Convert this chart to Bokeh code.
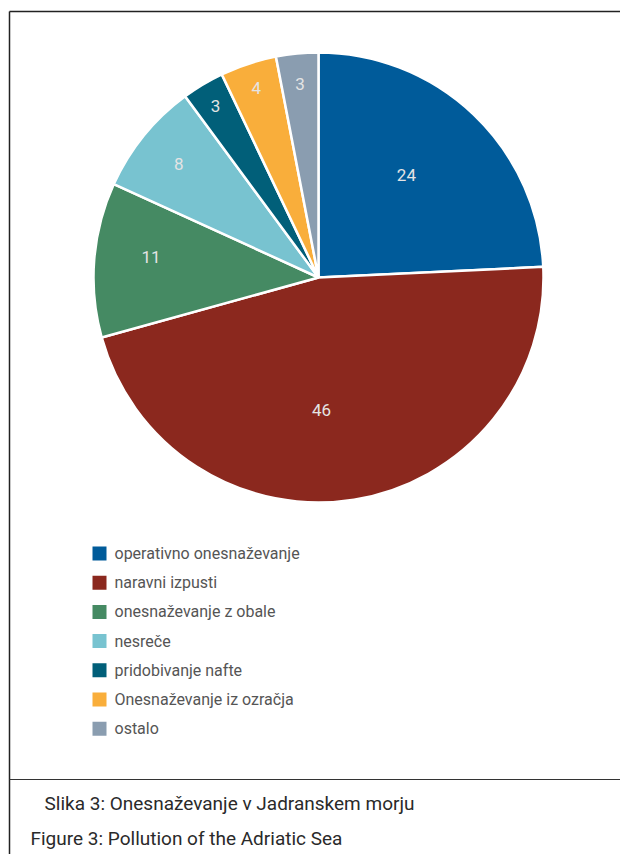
import numpy as np
from bokeh.plotting import figure
from bokeh.models import Range1d, ColumnDataSource
from bokeh.core.properties import value
from bokeh.embed import file_html
from bokeh.resources import INLINE

categories = ["operativno onesnaževanje", "naravni izpusti", "onesnaževanje z obale",
              "nesreče", "pridobivanje nafte", "Onesnaževanje iz ozračja", "ostalo"]
values = [24, 46, 11, 8, 3, 4, 3]
colors = ["#005b9a", "#8b281e", "#458a63", "#78c3d0", "#015f79", "#f9ae3b", "#8a9db0"]
caption_si = "Slika 3: Onesnaževanje v Jadranskem morju"
caption_en = "Figure 3: Pollution of the Adriatic Sea"

# label placement style (radius fraction, angle nudge in degrees)
label_rfrac = [0.6, 0.59, 0.75, 0.8, 0.89, 0.885, 0.865]
label_nudge = [-3, 7.8, 2.5, 0, 0, 0, 0]

FONT = "Roboto"
W, H = 620, 854
p = figure(width=W, height=H, output_backend="svg", toolbar_location=None,
           x_range=Range1d(0, W), y_range=Range1d(0, H), min_border=0)
p.axis.visible = False
p.grid.visible = False
p.outline_line_color = None
p.background_fill_color = "white"
p.border_fill_color = "white"

def Y(y):
    return H - y

# frame
p.line([9, 9], [Y(11), Y(854)], line_color="#222222", line_width=1.5)
p.line([9, 620], [Y(11), Y(11)], line_color="#222222", line_width=1.5)
p.line([9, 620], [Y(779), Y(779)], line_color="#333333", line_width=1.2)

# pie
cx, cy, r = 318, Y(277), 225
vals = np.array(values, dtype=float)
frac = vals / vals.sum()
cum = np.concatenate([[0], np.cumsum(frac)])
start = np.pi / 2 - cum[:-1] * 2 * np.pi
end = np.pi / 2 - cum[1:] * 2 * np.pi
src = ColumnDataSource(dict(start=start, end=end, color=colors, cat=categories))
p.wedge(x=cx, y=cy, radius=r, start_angle="start", end_angle="end",
        direction="clock", fill_color="color", line_color="white", line_width=2.5,
        source=src)

mid = (start + end) / 2 - np.radians(label_nudge)
lr = np.array(label_rfrac) * r
lx = cx + lr * np.cos(mid)
ly = cy + lr * np.sin(mid)
p.text(x=lx, y=ly, text=[str(v) for v in values], text_color="#e4e4e4",
       text_font=value(FONT), text_font_size="17px",
       text_align="center", text_baseline="middle")

# legend
n = len(categories)
ly0 = np.array([Y(553 + 29.2 * i) for i in range(n)])
p.rect(x=[99] * n, y=ly0, width=14, height=14, fill_color=colors, line_color=None)
p.text(x=[114] * n, y=ly0, text=categories, text_color="#555555",
       text_font=value(FONT), text_font_size="16px",
       text_align="left", text_baseline="middle")

# captions
p.text(x=[44], y=[Y(803)], text=[caption_si], text_color="#2a2a2a",
       text_font=value(FONT), text_font_size="19px",
       text_align="left", text_baseline="middle")
p.text(x=[30], y=[Y(838)], text=[caption_en], text_color="#2a2a2a",
       text_font=value(FONT), text_font_size="19px",
       text_align="left", text_baseline="middle")

open("out.html", "w").write(file_html(p, INLINE))
